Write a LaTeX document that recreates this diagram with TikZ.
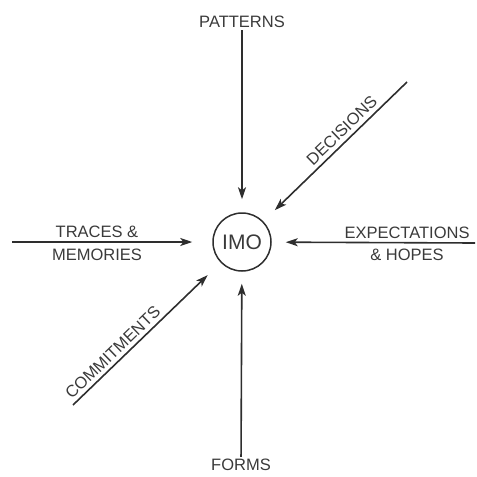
\documentclass[tikz,border=0pt]{standalone}
\usepackage{fontspec}
\setmainfont{Liberation Sans}
\usetikzlibrary{arrows.meta}
\definecolor{ink}{HTML}{2E2E2E}
\definecolor{txt}{HTML}{3A3A3A}
\begin{document}
\begin{tikzpicture}[x=1pt,y=-1pt,
  lbl/.style={font=\fontsize{16.5}{18}\selectfont, text=txt, inner sep=2pt},
  arr/.style={draw=ink, line width=1.6pt, -{Stealth[length=12pt,width=8pt,inset=3pt]}},
  hub/.style={circle, draw=ink, line width=1.5pt, minimum size=58pt, inner sep=0pt,
    font=\fontsize{21}{24}\selectfont, text=txt}]
\useasboundingbox (0,0) rectangle (477,477);
\node[hub] (imo) at (242,242) {IMO};
% top / bottom
\node[lbl] (pat) at (242,22) {PATTERNS};
\node[lbl] (frm) at (241,465) {FORMS};
\draw[arr, shorten >=13pt] (pat) -- (imo);
\draw[arr, shorten >=12pt] (frm) -- (imo);
% left / right
\coordinate (tr0) at (12,242);
\coordinate (ex0) at (475,243);
\draw[arr, shorten >=20pt] (tr0) -- (imo);
\draw[arr, shorten >=14pt] (ex0) -- (imo);
\node[lbl] (tr1) at (97,232) {TRACES \&};
\node[lbl] (tr2) at (97,255) {MEMORIES};
\node[lbl] (ex1) at (407,233) {EXPECTATIONS};
\node[lbl] (ex2) at (407,255) {\& HOPES};
% diagonals
\coordinate (de0) at (407,82);
\coordinate (co0) at (73,405);
\draw[arr, shorten >=16pt] (de0) -- (imo);
\draw[arr, shorten >=18pt] (co0) -- (imo);
\node[lbl, anchor=south, rotate=44, inner sep=3pt] (dec) at (348,137) {DECISIONS};
\node[lbl, anchor=south, rotate=44, inner sep=3pt] (com) at (119,359) {COMMITMENTS};
\end{tikzpicture}
\end{document}
